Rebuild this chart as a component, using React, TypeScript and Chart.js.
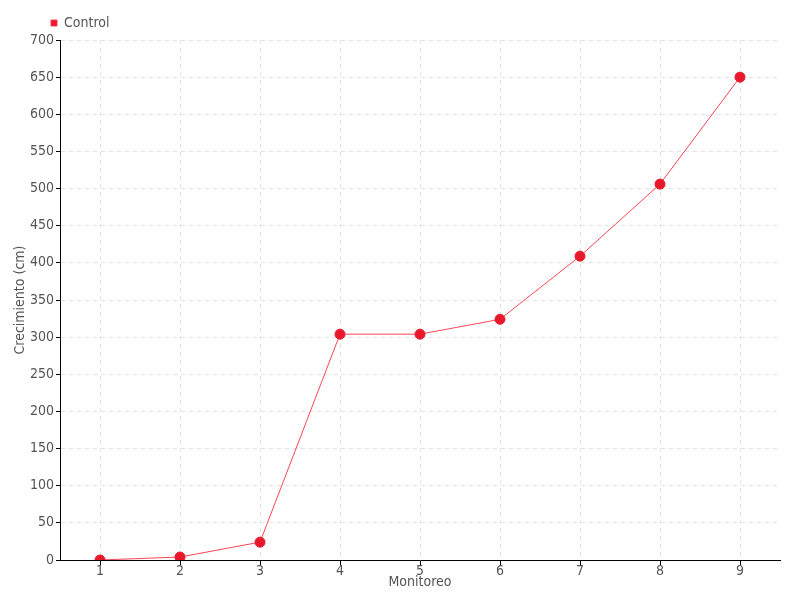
import React, { useEffect, useRef } from "react";
import { Chart, registerables } from "chart.js";

Chart.register(...registerables);

const categories = ["1", "2", "3", "4", "5", "6", "7", "8", "9"];
const controlValues = [0, 4, 24, 304, 304, 324, 409, 506, 650];

const FONT = "'DejaVu Sans Condensed', 'Liberation Sans Narrow', 'Roboto', sans-serif";

const legendShift = {
  id: "legendShift",
  afterLayout(chart: any) {
    if (chart.legend) {
      chart.legend.left = 40;
    }
  },
};

export default function App() {
  const ref = useRef<HTMLCanvasElement | null>(null);
  useEffect(() => {
    document.body.style.margin = "0";
    const ctx = ref.current!;
    const chart = new Chart(ctx, {
      type: "line",
      data: {
        labels: categories,
        datasets: [
          {
            label: "Control",
            data: controlValues,
            borderColor: "rgba(255,50,70,0.9)",
            backgroundColor: "#e8192c",
            pointBackgroundColor: "#e8192c",
            pointBorderColor: "#e8192c",
            borderWidth: 1,
            pointRadius: 5,
            tension: 0,
          },
        ],
      },
      options: {
        animation: false,
        responsive: false,
        layout: { padding: { left: 0, right: 20, top: 5, bottom: 0 } },
        plugins: {
          legend: {
            display: true,
            position: "top",
            align: "start",
            labels: {
              boxWidth: 6,
              boxHeight: 6,
              padding: 11,
              color: "#555",
              font: { family: FONT, size: 14 },
            },
          },
          tooltip: { enabled: false },
        },
        scales: {
          x: {
            offset: true,
            grid: {
              offset: false,
              color: "#e2e2e2",
              borderDash: [4, 4],
              tickColor: "#000",
              tickLength: 5,
            } as any,
            border: { color: "#000", width: 1, dash: [4, 4] } as any,
            ticks: { color: "#555", font: { family: FONT, size: 14 }, padding: -2 },
            title: {
              display: true,
              text: "Monitoreo",
              color: "#555",
              font: { family: FONT, size: 14 },
              padding: { top: 0, bottom: 9 },
            },
            afterFit(scale: any) {
              scale.height = 40;
            },
          },
          y: {
            min: 0,
            max: 700,
            ticks: { stepSize: 50, color: "#555", font: { family: FONT, size: 14 }, padding: 2 },
            grid: {
              color: "#e2e2e2",
              tickColor: "#000",
              tickLength: 4,
              tickBorderDash: [],
            } as any,
            border: { color: "#000", width: 1, dash: [4, 4] } as any,
            title: {
              display: true,
              text: "Crecimiento (cm)",
              color: "#555",
              font: { family: FONT, size: 14 },
              padding: { top: 12, bottom: 2 },
            },
            afterFit(scale: any) {
              scale.width = 60;
            },
          },
        },
      },
      plugins: [legendShift],
    });
    return () => chart.destroy();
  }, []);
  return (
    <div style={{ position: "fixed", left: 0, top: 0, width: 800, height: 600 }}>
      <canvas ref={ref} width={800} height={600} style={{ width: 800, height: 600 }} />
    </div>
  );
}
